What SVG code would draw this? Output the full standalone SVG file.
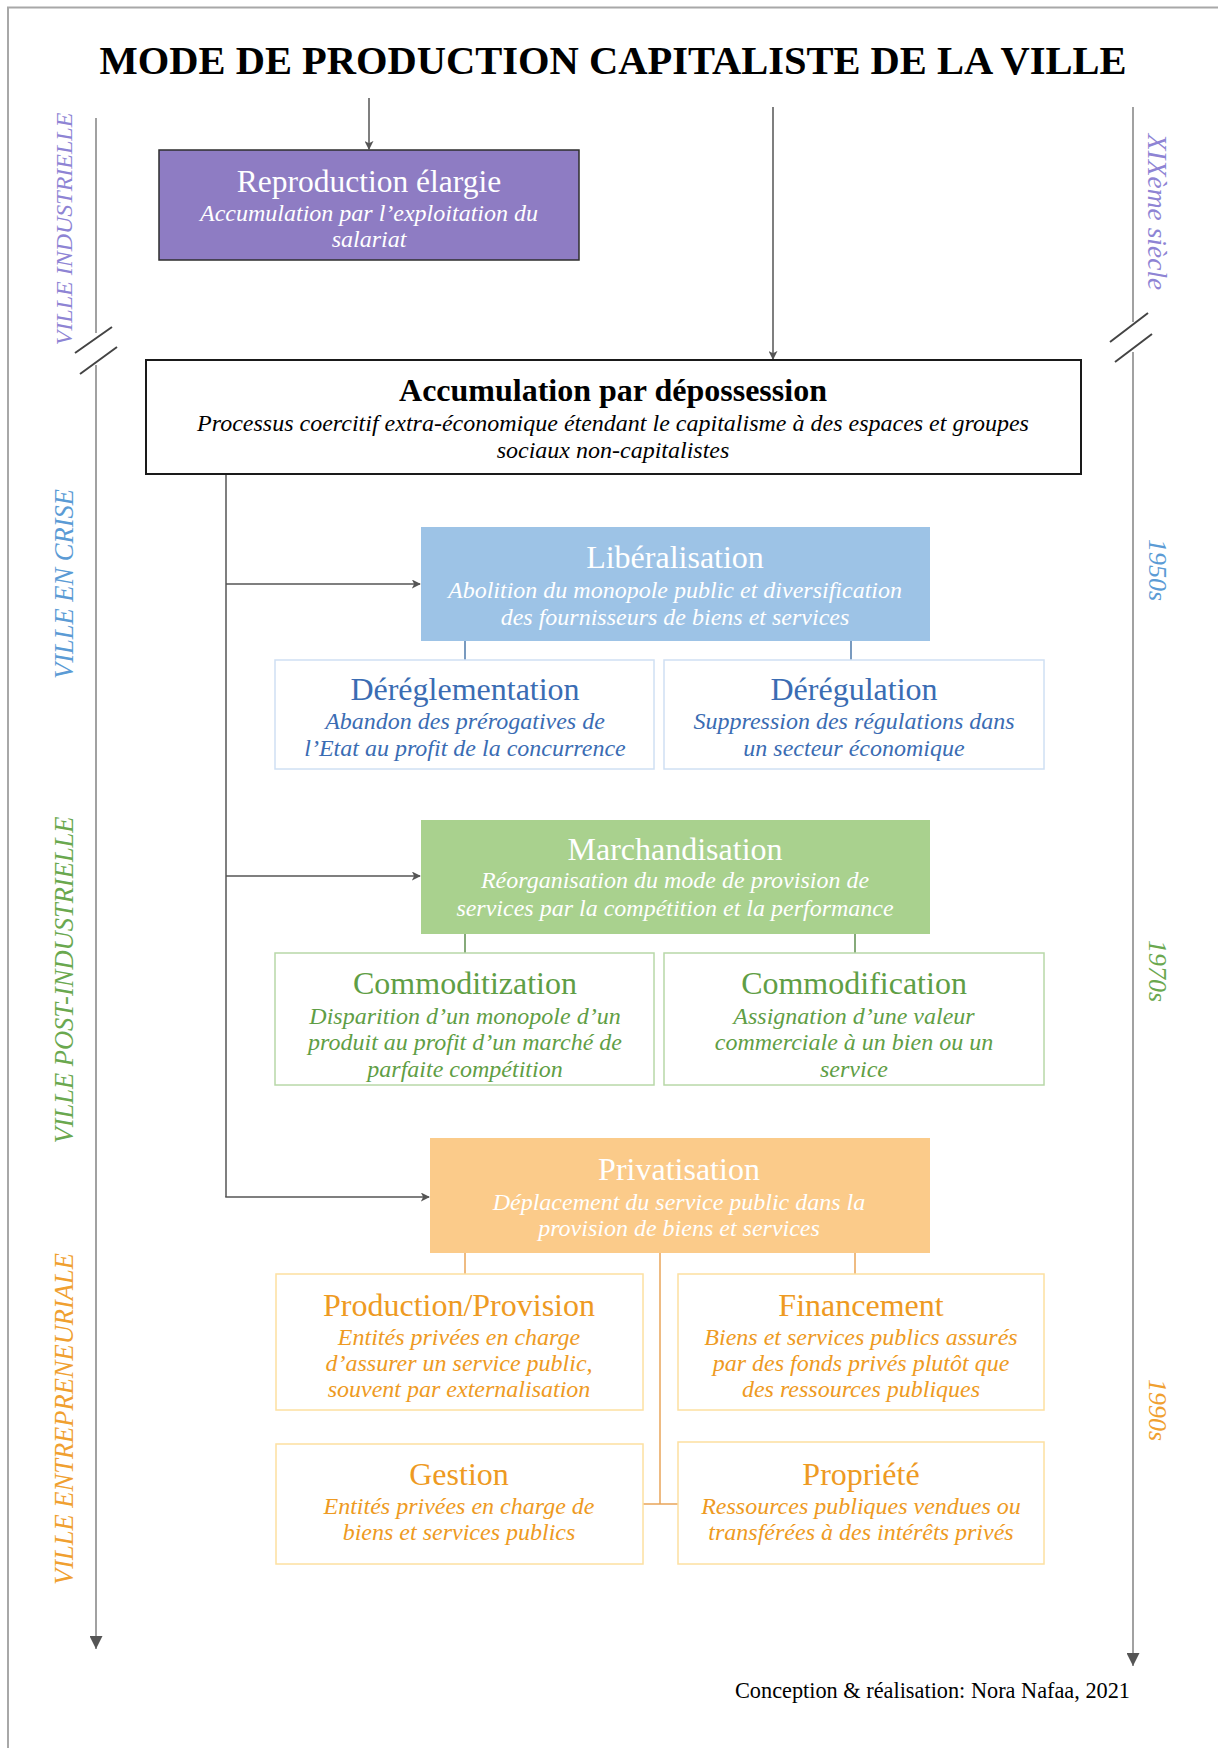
<svg xmlns="http://www.w3.org/2000/svg" width="1218" height="1748" viewBox="0 0 1218 1748">
<defs>
<marker id="arr" viewBox="0 0 10 10" refX="9" refY="5" markerWidth="9" markerHeight="9" markerUnits="userSpaceOnUse" orient="auto">
<path d="M0,0 L10,5 L0,10 L2.5,5 z" fill="#555"/>
</marker>
<marker id="tl" viewBox="0 0 10 10" refX="10" refY="5" markerWidth="13" markerHeight="13" markerUnits="userSpaceOnUse" orient="auto">
<path d="M0,0 L10,5 L0,10 z" fill="#555"/>
</marker>
</defs>
<style>
text{font-family:"Liberation Serif","Times New Roman",serif;text-anchor:middle}
.ttl{font-size:32px}
.sub{font-size:24px;font-style:italic}
.side{font-style:italic}
.w{fill:#ffffff}
.blue{fill:#3a6cb3}
.green{fill:#5f9e45}
.orange{fill:#ee9a22}
.conn{stroke:#555;stroke-width:1.5;fill:none}
.tline{stroke:#8a8a8a;stroke-width:1.6;fill:none}
.slash{stroke:#444;stroke-width:2;fill:none}
</style>
<rect x="0" y="0" width="1218" height="1748" fill="#ffffff"/>
<path d="M8,1748 L8,7.5 L1218,7.5" fill="none" stroke="#a8a8a8" stroke-width="2"/>

<text x="613" y="74" font-size="40.5" font-weight="bold" fill="#000">MODE DE PRODUCTION CAPITALISTE DE LA VILLE</text>

<g id="timeline-left">
<path class="tline" d="M96,118 L96,333"/>
<path class="tline" d="M96,365 L96,1649" marker-end="url(#tl)"/>
<path class="slash" d="M112,327 L75,353 M117,347 L80,374"/>
</g>
<g id="timeline-right">
<path class="tline" d="M1133,107 L1133,322"/>
<path class="tline" d="M1133,352 L1133,1666" marker-end="url(#tl)"/>
<path class="slash" d="M1148,313 L1110,342 M1152,334 L1115,362"/>
</g>

<g id="side-labels">
<text class="side" font-size="24" fill="#8e84d4" transform="translate(72,229) rotate(-90)">VILLE INDUSTRIELLE</text>
<text class="side" font-size="26.5" fill="#5b9bd5" transform="translate(73,584) rotate(-90)">VILLE EN CRISE</text>
<text class="side" font-size="26.5" fill="#6aa84f" transform="translate(73,980) rotate(-90)">VILLE POST-INDUSTRIELLE</text>
<text class="side" font-size="26.5" fill="#f0a030" transform="translate(73,1419) rotate(-90)">VILLE ENTREPRENEURIALE</text>
<text class="side" font-size="27.5" fill="#8e84d4" transform="translate(1148,212) rotate(90)">XIXème siècle</text>
<text class="side" font-size="26" fill="#5b9bd5" transform="translate(1149,570) rotate(90)">1950s</text>
<text class="side" font-size="26" fill="#6aa84f" transform="translate(1149,971) rotate(90)">1970s</text>
<text class="side" font-size="26" fill="#f0a030" transform="translate(1149,1410) rotate(90)">1990s</text>
</g>

<g id="connectors">
<path class="conn" d="M369,98 L369,149" marker-end="url(#arr)"/>
<path class="conn" d="M773,107 L773,359" marker-end="url(#arr)"/>
<path class="conn" d="M226,474 L226,1197"/>
<path class="conn" d="M226,584 L420,584" marker-end="url(#arr)"/>
<path class="conn" d="M226,876 L420,876" marker-end="url(#arr)"/>
<path class="conn" d="M225.25,1197 L429,1197" marker-end="url(#arr)"/>
<path d="M465,641 L465,660 M851,641 L851,660" stroke="#4d7aab" stroke-width="1.5"/>
<path d="M465,934 L465,953 M855,934 L855,953" stroke="#5f8f4f" stroke-width="1.5"/>
<path d="M465,1253 L465,1274 M855,1253 L855,1274 M660,1253 L660,1504 M643,1504 L678,1504" stroke="#e9a55a" stroke-width="1.5" fill="none"/>
</g>

<g id="reproduction">
<rect x="159" y="150" width="420" height="110" fill="#8e7cc3" stroke="#2e2e2e" stroke-width="1.5"/>
<text class="w" x="369" y="192" font-size="31.5">Reproduction élargie</text>
<text class="sub w" x="369" y="221">Accumulation par l’exploitation du</text>
<text class="sub w" x="369" y="247">salariat</text>
</g>

<g id="accumulation">
<rect x="146" y="360" width="935" height="114" fill="#ffffff" stroke="#1a1a1a" stroke-width="2"/>
<text x="613" y="401" font-size="32" font-weight="bold" fill="#000">Accumulation par dépossession</text>
<text class="sub" x="613" y="431" fill="#000">Processus coercitif extra-économique étendant le capitalisme à des espaces et groupes</text>
<text class="sub" x="613" y="458" fill="#000">sociaux non-capitalistes</text>
</g>

<g id="liberalisation">
<rect x="421" y="527" width="509" height="114" fill="#9dc3e6"/>
<text class="ttl w" x="675" y="568">Libéralisation</text>
<text class="sub w" x="675" y="598">Abolition du monopole public et diversification</text>
<text class="sub w" x="675" y="625">des fournisseurs de biens et services</text>
</g>
<g id="dereglementation">
<rect x="275" y="660" width="379" height="109" fill="#ffffff" stroke="#cfe0f3" stroke-width="1.5"/>
<text class="ttl blue" x="465" y="700">Déréglementation</text>
<text class="sub blue" x="465" y="729">Abandon des prérogatives de</text>
<text class="sub blue" x="465" y="756">l’Etat au profit de la concurrence</text>
</g>
<g id="deregulation">
<rect x="664" y="660" width="380" height="109" fill="#ffffff" stroke="#cfe0f3" stroke-width="1.5"/>
<text class="ttl blue" x="854" y="700">Dérégulation</text>
<text class="sub blue" x="854" y="729">Suppression des régulations dans</text>
<text class="sub blue" x="854" y="756">un secteur économique</text>
</g>

<g id="marchandisation">
<rect x="421" y="820" width="509" height="114" fill="#a9d18e"/>
<text class="ttl w" x="675" y="860">Marchandisation</text>
<text class="sub w" x="675" y="888">Réorganisation du mode de provision de</text>
<text class="sub w" x="675" y="916">services par la compétition et la performance</text>
</g>
<g id="commoditization">
<rect x="275" y="953" width="379" height="132" fill="#ffffff" stroke="#b8d8a8" stroke-width="1.5"/>
<text class="ttl green" x="465" y="994">Commoditization</text>
<text class="sub green" x="465" y="1024">Disparition d’un monopole d’un</text>
<text class="sub green" x="465" y="1050">produit au profit d’un marché de</text>
<text class="sub green" x="465" y="1077">parfaite compétition</text>
</g>
<g id="commodification">
<rect x="664" y="953" width="380" height="132" fill="#ffffff" stroke="#b8d8a8" stroke-width="1.5"/>
<text class="ttl green" x="854" y="994">Commodification</text>
<text class="sub green" x="854" y="1024">Assignation d’une valeur</text>
<text class="sub green" x="854" y="1050">commerciale à un bien ou un</text>
<text class="sub green" x="854" y="1077">service</text>
</g>

<g id="privatisation">
<rect x="430" y="1138" width="500" height="115" fill="#fbcb8a"/>
<text class="ttl w" x="679" y="1180">Privatisation</text>
<text class="sub w" x="679" y="1210">Déplacement du service public dans la</text>
<text class="sub w" x="679" y="1236">provision de biens et services</text>
</g>
<g id="production">
<rect x="276" y="1274" width="367" height="136" fill="#ffffff" stroke="#fde0a0" stroke-width="1.5"/>
<text class="ttl orange" x="459" y="1316">Production/Provision</text>
<text class="sub orange" x="459" y="1345">Entités privées en charge</text>
<text class="sub orange" x="459" y="1371">d’assurer un service public,</text>
<text class="sub orange" x="459" y="1397">souvent par externalisation</text>
</g>
<g id="financement">
<rect x="678" y="1274" width="366" height="136" fill="#ffffff" stroke="#fde0a0" stroke-width="1.5"/>
<text class="ttl orange" x="861" y="1316">Financement</text>
<text class="sub orange" x="861" y="1345">Biens et services publics assurés</text>
<text class="sub orange" x="861" y="1371">par des fonds privés plutôt que</text>
<text class="sub orange" x="861" y="1397">des ressources publiques</text>
</g>
<g id="gestion">
<rect x="276" y="1444" width="367" height="120" fill="#ffffff" stroke="#fde0a0" stroke-width="1.5"/>
<text class="ttl orange" x="459" y="1485">Gestion</text>
<text class="sub orange" x="459" y="1514">Entités privées en charge de</text>
<text class="sub orange" x="459" y="1540">biens et services publics</text>
</g>
<g id="propriete">
<rect x="678" y="1442" width="366" height="122" fill="#ffffff" stroke="#fde0a0" stroke-width="1.5"/>
<text class="ttl orange" x="861" y="1485">Propriété</text>
<text class="sub orange" x="861" y="1514">Ressources publiques vendues ou</text>
<text class="sub orange" x="861" y="1540">transférées à des intérêts privés</text>
</g>

<text x="1130" y="1698" font-size="22.3" fill="#000" style="text-anchor:end">Conception &amp; réalisation: Nora Nafaa, 2021</text>
</svg>
